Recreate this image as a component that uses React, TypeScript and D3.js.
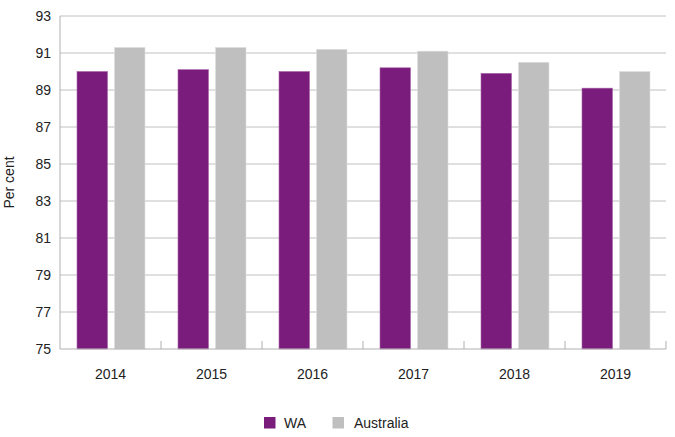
import React from "react";
import * as d3 from "d3";

const years = ["2014", "2015", "2016", "2017", "2018", "2019"];
const waValues = [90.0, 90.1, 90.0, 90.2, 89.9, 89.1];
const ausValues = [91.3, 91.3, 91.2, 91.1, 90.5, 90.0];
const yTicks = [75, 77, 79, 81, 83, 85, 87, 89, 91, 93];
const seriesNames = ["WA", "Australia"];
const colors = ["#7A1C7C", "#BFBFBF"];

export default function App() {
  const W = 675, H = 437;
  const left = 60, right = 666, top = 16, bottom = 349;
  const x = d3.scaleBand().domain(years).range([left, right]);
  const y = d3.scaleLinear().domain([75, 93]).range([bottom, top]);
  const bw = x.bandwidth();
  const font = "'Liberation Sans', Arial, sans-serif";
  const fs = 14;
  const barW = 30.5;
  const padL = 17;
  const gap = 7;
  return (
    <svg width={W} height={H} style={{ position: "absolute", left: 0, top: 0 }}>
      <rect width={W} height={H} fill="#fff" />
      {yTicks.map((t) => (
        <g key={t}>
          {t !== 75 && (
            <line x1={left} x2={right} y1={y(t)} y2={y(t)} stroke="#C0C0C0" strokeWidth={1} />
          )}
          <text x={51} y={y(t)} dy="0.35em" textAnchor="end" fontFamily={font} fontSize={fs} fill="#222">
            {t}
          </text>
        </g>
      ))}
      {years.map((yr, i) => {
        const x0 = x(yr)!;
        return (
          <g key={yr}>
            <rect x={x0 + padL} y={y(waValues[i])} width={barW} height={bottom - y(waValues[i])}
              fill={colors[0]} stroke="#A865A9" strokeWidth={0.6} />
            <rect x={x0 + padL + barW + gap} y={y(ausValues[i])} width={barW} height={bottom - y(ausValues[i])}
              fill={colors[1]} stroke="#E0E0E0" strokeWidth={0.6} />
            <text x={x0 + bw / 2} y={379} textAnchor="middle" fontFamily={font} fontSize={fs} fill="#222">
              {yr}
            </text>
          </g>
        );
      })}
      {years.map((yr) => (
        <line key={"t" + yr} x1={x(yr)! + bw} x2={x(yr)! + bw} y1={bottom} y2={bottom - 8} stroke="#B0B0B0" />
      ))}
      <line x1={left} x2={left} y1={top} y2={bottom} stroke="#B0B0B0" />
      <line x1={left} x2={right} y1={bottom} y2={bottom} stroke="#B0B0B0" />
      <text transform={`translate(14,${(top + bottom) / 2}) rotate(-90)`} textAnchor="middle"
        fontFamily={font} fontSize={fs} fill="#222">Per cent</text>
      <g>
        <rect x={264} y={417} width={11.5} height={11.5} fill={colors[0]} />
        <text x={284} y={427.5} fontFamily={font} fontSize={fs} fill="#222">{seriesNames[0]}</text>
        <rect x={332.5} y={417} width={11.5} height={11.5} fill={colors[1]} />
        <text x={354} y={427.5} fontFamily={font} fontSize={fs} fill="#222">{seriesNames[1]}</text>
      </g>
    </svg>
  );
}
